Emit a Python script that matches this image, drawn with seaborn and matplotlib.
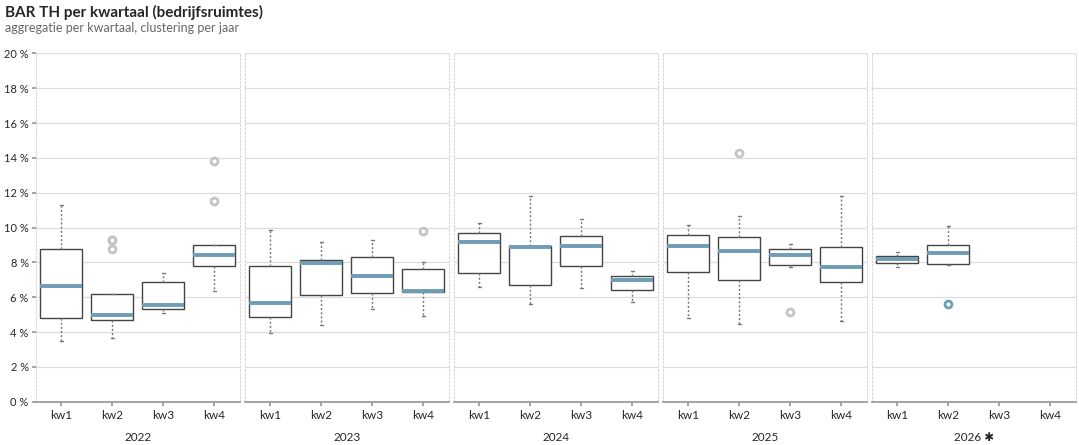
import numpy as np
import pandas as pd
import matplotlib
matplotlib.use("Agg")
import matplotlib.pyplot as plt
import seaborn as sns

# box summaries: (whisker low, q1, median, q3, whisker high, outliers)
years = ["2022", "2023", "2024", "2025", "2026"]
quarters = ["kw1", "kw2", "kw3", "kw4"]
boxes = {
    "2022": [(3.5, 4.8, 6.65, 8.8, 11.3, []),
             (3.65, 4.7, 5.0, 6.2, 6.2, [8.8, 9.3, 9.3]),
             (5.1, 5.3, 5.55, 6.85, 7.4, []),
             (6.35, 7.8, 8.4, 9.0, 9.0, [11.5, 13.8])],
    "2023": [(3.95, 4.85, 5.7, 7.8, 9.85, []),
             (4.4, 6.15, 7.95, 8.15, 9.15, []),
             (5.3, 6.25, 7.2, 8.3, 9.3, []),
             (4.9, 6.3, 6.35, 7.65, 8.0, [9.8])],
    "2024": [(6.6, 7.4, 9.15, 9.7, 10.25, []),
             (5.6, 6.7, 8.9, 8.95, 11.8, []),
             (6.55, 7.8, 8.95, 9.5, 10.5, []),
             (5.75, 6.4, 7.0, 7.25, 7.5, [])],
    "2025": [(4.83, 7.43, 8.96, 9.6, 10.14, []),
             (4.49, 6.97, 8.65, 9.47, 10.68, [14.3]),
             (7.75, 7.87, 8.4, 8.79, 9.07, [5.14]),
             (4.66, 6.88, 7.75, 8.9, 11.8, [])],
    "2026": [(7.75, 7.97, 8.18, 8.39, 8.6, []),
             (7.87, 7.93, 8.52, 9.0, 10.07, [5.62])],
}


def sample(lo, q1, med, q3, hi, outl):
    # values whose quartiles/whiskers reproduce the summary
    below = [o for o in outl if o < q1]
    above = [o for o in outl if o > q3]
    k = max(len(below), len(above)) + 1
    lower = sorted(below) + [lo] * (k - len(below))
    upper = [hi] * (k - len(above)) + sorted(above)
    m = k + 2
    return lower + [q1] * m + [med] + [q3] * m + upper


rows = []
for y in years:
    for q, b in zip(quarters, boxes[y]):
        for v in sample(*b):
            rows.append((y, q, v))
df = pd.DataFrame(rows, columns=["jaar", "kwartaal", "waarde"])

sns.set_theme(style="white")
plt.rcParams["font.family"] = ["Lato", "DejaVu Sans"]

fig, axes = plt.subplots(1, 5, figsize=(10.79, 4.45), dpi=100, sharey=True)
fig.subplots_adjust(left=0.033, right=0.997, top=0.88, bottom=0.097, wspace=0.025)

blue = "#6f9cb6"
for i, (ax, y) in enumerate(zip(axes, years)):
    fc = blue if y == "2026" else "#c4c4c4"
    sns.boxplot(data=df[df.jaar == y], x="kwartaal", y="waarde", order=quarters, ax=ax,
                width=0.82, color="white", linewidth=1.0, whis=1.5,
                boxprops=dict(edgecolor="#444444", facecolor="white"),
                medianprops=dict(color=blue, linewidth=2.8),
                whiskerprops=dict(color="#777777", linestyle=(0, (1.5, 1.5)), linewidth=1),
                capprops=dict(color="#777777", linewidth=1),
                capwidths=0.06,
                flierprops=dict(marker="o", markerfacecolor="none", markeredgecolor=fc,
                                markeredgewidth=2, markersize=5))
    ax.set_ylim(0, 20)
    ax.set_yticks(range(0, 21, 2))
    ax.grid(axis="y", color="#dddddd", linewidth=0.9)
    ax.set_axisbelow(True)
    for s in ["left", "right", "top"]:
        ax.spines[s].set_visible(s != "top")
        ax.spines[s].set_linestyle((0, (2, 2)))
        ax.spines[s].set_color("#d6d6d6")
        ax.spines[s].set_linewidth(0.7)
    ax.spines["bottom"].set_color("#999999")
    ax.tick_params(axis="x", length=3, color="#999999", labelsize=8.5, pad=3, bottom=True)
    ax.set_xlabel("2026 ✱" if y == "2026" else y, fontsize=8.5, labelpad=8)
    ax.set_ylabel("")
    if i == 0:
        ax.set_yticklabels([f"{v} %" for v in range(0, 21, 2)])
        ax.tick_params(axis="y", length=3, color="#999999", labelsize=8, left=True, pad=2)
    else:
        ax.tick_params(axis="y", left=False)

fig.text(0.005, 0.973, "BAR TH per kwartaal (bedrijfsruimtes)", fontsize=11,
         fontweight="bold", va="center")
fig.text(0.005, 0.937, "aggregatie per kwartaal, clustering per jaar", fontsize=9,
         color="#666666", va="center")

fig.savefig("out.png", dpi=100)
